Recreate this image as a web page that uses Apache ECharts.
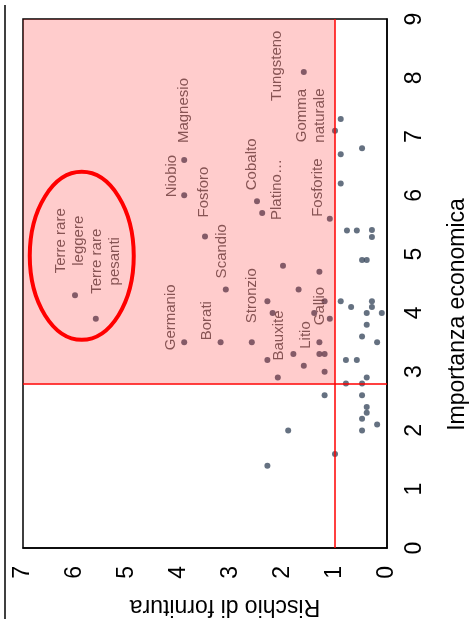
<!DOCTYPE html>
<html>
<head>
<meta charset="utf-8">
<script src="https://cdn.jsdelivr.net/npm/echarts@6/dist/echarts.min.js"></script>
<style>
  html, body { margin: 0; padding: 0; background: #fff; }
  #chart { width: 469px; height: 619px; }
</style>
</head>
<body>
<div id="chart"></div>
<script>
// materiali etichettati
const labelNames = ['Terre rare\nleggere', 'Terre rare\npesanti', 'Magnesio', 'Niobio', 'Fosforo',
  'Cobalto', 'Platino…', 'Fosforite', 'Tungsteno', 'Gomma\nnaturale', 'Scandio', 'Germanio',
  'Borati', 'Stronzio', 'Bauxite', 'Litio', 'Gallio'];
const labelRisk = [6.0, 5.6, 3.9, 3.9, 3.5, 2.5, 2.4, 1.1, 1.6, 1.0, 3.1, 3.9, 3.2, 2.6, 2.1, 1.6, 1.3];
const labelImportance = [4.3, 3.9, 6.6, 6.0, 5.3, 5.9, 5.7, 5.6, 8.1, 7.1, 4.4, 3.5, 3.5, 3.5, 2.9, 3.1, 3.5];

// altri materiali (senza etichetta)
const otherRisk = [2.0, 1.7, 1.3, 2.3, 2.2, 1.4, 1.2, 1.1, 1.3, 1.2, 1.8, 2.3, 1.2,
  0.89, 0.48, 0.89, 0.89, 0.77, 0.58, 0.29, 0.29, 0.48, 0.39, 0.89, 0.69, 0.29, 0.29,
  0.39, 0.1, 0.39, 0.48, 0.19, 0.79, 0.58, 0.39, 0.79, 0.48, 0.48, 0.39, 0.39, 0.48,
  0.19, 0.48, 1.0, 1.2, 1.9, 2.3];
const otherImportance = [4.8, 4.4, 4.7, 4.2, 4.0, 4.0, 4.2, 3.9, 3.3, 3.3, 3.3, 3.2, 3.0,
  7.3, 6.8, 6.7, 6.2, 5.4, 5.4, 5.41, 5.29, 4.9, 4.9, 4.2, 4.1, 4.2, 4.1,
  4.0, 4.0, 3.8, 3.6, 3.5, 3.2, 3.2, 2.9, 2.8, 2.8, 2.6, 2.4, 2.3, 2.2,
  2.1, 2.0, 1.6, 2.6, 2.0, 1.4];

// soglie di criticità
const riskThreshold = 1.0;
const importanceThreshold = 2.8;

// spostamento delle etichette (px sullo schermo: destra, giù), come nel grafico originale
const labelOffsets = [[-5, -5], [10, -8], [0, 0], [-12, 19], [-1, -2], [-5, 6], [15, 24],
  [-12, 15], [-27, 46], [-24, 29], [-4, 6], [-13, 25], [-14, 15], [0, -2], [1, 0], [2, 0], [0, 0]];

// ellisse attorno alle terre rare
const ellipseCenter = [5.87, 4.97];

const FONT = 'Liberation Sans, Arial, sans-serif';
const DOT = '#3e4e62';

const chart = echarts.init(document.getElementById('chart'), null, { renderer: 'canvas' });

const labelled = labelNames.map((n, i) => ({ name: n, value: [labelRisk[i], labelImportance[i]] }));
const others = otherRisk.map((r, i) => [r, otherImportance[i]]);

chart.setOption({
  animation: false,
  grid: {
    left: 23, right: 82, top: 19, bottom: 71, outerBoundsMode: 'none',
    show: true, borderColor: '#000', borderWidth: 1.5,
  },
  xAxis: {
    type: 'value', min: 0, max: 7, interval: 1, inverse: true,
    axisLine: { show: true, lineStyle: { color: '#000', width: 1.5 } },
    axisTick: { show: false },
    splitLine: { show: false },
    axisLabel: { rotate: 90, margin: 18, fontSize: 23, color: '#000', fontFamily: FONT },
    name: 'Rischio di fornitura', nameLocation: 'middle', nameGap: 47, nameRotate: 180,
    nameTextStyle: { fontSize: 23, color: '#000', fontFamily: FONT, padding: [0, 40, 0, 0] },
  },
  yAxis: {
    type: 'value', min: 0, max: 9, interval: 1, position: 'right',
    axisLine: { show: true, lineStyle: { color: '#000', width: 1.5 } },
    axisTick: { show: false },
    splitLine: { show: false },
    axisLabel: { rotate: 90, margin: 16, fontSize: 23, color: '#000', fontFamily: FONT },
    name: 'Importanza economica', nameLocation: 'middle', nameGap: 59, nameRotate: 90,
    nameTextStyle: { fontSize: 23, color: '#000', fontFamily: FONT, padding: [0, 62, 0, 0] },
  },
  series: [
    {
      type: 'scatter', symbolSize: 6, itemStyle: { color: DOT }, z: 2,
      data: others,
    },
    {
      type: 'scatter', symbolSize: 6, itemStyle: { color: DOT }, z: 3,
      data: labelled,
      label: {
        show: true, position: 'top', distance: 14, rotate: 90,
        align: 'left', verticalAlign: 'middle',
        // righe centrate tra loro
        formatter: (p) => p.name.split('\n').map((s) => '{c|' + s + '}').join('\n'),
        rich: { c: { align: 'center', fontSize: 15, lineHeight: 18, color: '#444', fontFamily: FONT } },
        fontSize: 15, lineHeight: 18, color: '#444', fontFamily: FONT,
      },
      // dx/dy agiscono nel riferimento ruotato dell'etichetta
      labelLayout: (p) => ({ dx: -labelOffsets[p.dataIndex][1], dy: labelOffsets[p.dataIndex][0] }),
    },
    {
      type: 'scatter', data: [], z: 10, silent: true,
      markArea: {
        z: 10, silent: true,
        itemStyle: { color: 'rgba(255,0,0,0.2)' },
        data: [[{ xAxis: riskThreshold, yAxis: importanceThreshold }, { xAxis: 7, yAxis: 9 }]],
      },
      markLine: {
        z: 11, silent: true, symbol: 'none', label: { show: false },
        lineStyle: { color: '#ff0000', width: 1.5, type: 'solid' },
        data: [{ xAxis: riskThreshold }, { yAxis: importanceThreshold }],
      },
    },
  ],
});

const c = chart.convertToPixel({ gridIndex: 0 }, ellipseCenter);
chart.setOption({
  graphic: [
    {
      type: 'ellipse', z: 100, silent: true,
      shape: { cx: c[0], cy: c[1], rx: 52, ry: 84 },
      style: { fill: 'none', stroke: '#ff0000', lineWidth: 4 },
    },
    {
      type: 'line', z: 100, silent: true,
      shape: { x1: 5, y1: 5, x2: 5, y2: 619 },
      style: { stroke: '#000', lineWidth: 1.5 },
    },
  ],
});
</script>
</body>
</html>
